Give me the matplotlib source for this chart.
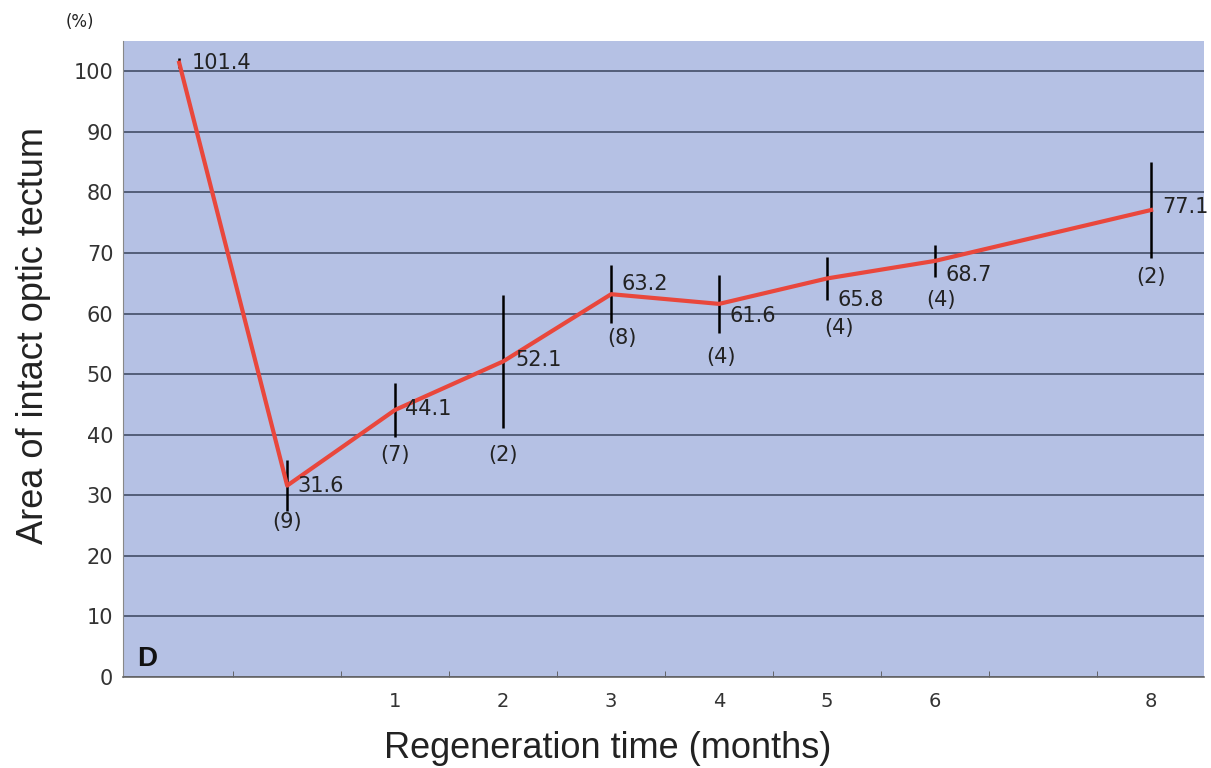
import numpy as np
import matplotlib
matplotlib.use("Agg")
import matplotlib.pyplot as plt


# Values

months = [-1, 0, 1, 2, 3, 4, 5, 6, 8]
means = [101.4, 31.6, 44.1, 52.1, 63.2, 61.6, 65.8, 68.7, 77.1]
errors = [0.8, 4.2, 4.5, 11.0, 4.8, 4.8, 3.6, 2.6, 8.0]
counts = ["", "(9)", "(7)", "(2)", "(8)", "(4)", "(4)", "(4)", "(2)"]

tick_months = [1, 2, 3, 4, 5, 6, 8]
tick_labels = ["1", "2", "3", "4", "5", "6", "8"]

# label offsets in pixels (value label, count label)
value_offsets = [(12, 0), (10, 0), (10, 1), (12, 1), (10, 10), (10, -12),
                 (10, -22), (10, -14), (11, 3)]
count_offsets = [(0, 0), (0, -36), (0, -45), (0, -94), (11, -44), (2, -53),
                 (12, -50), (6, -39), (0, -67)]

bg = "#b5c1e4"
grid_color = "#4b5670"
red = "#e9473c"

plt.rcParams["font.family"] = ["DejaVu Sans"]

fig = plt.figure(figsize=(12.11, 7.68), dpi=100)
ax = fig.add_axes([0.1016, 0.1185, 0.8926, 0.8281])
ax.set_facecolor(bg)

ax.set_xlim(-1.52, 8.49)
ax.set_ylim(0, 105)

ax.set_yticks(np.arange(0, 101, 10))
ax.yaxis.grid(True, color=grid_color, linewidth=1.3)
ax.set_axisbelow(True)

ax.set_xticks(tick_months)
ax.set_xticklabels(tick_labels)
ax.set_xticks(np.arange(-0.5, 8, 1), minor=True)
ax.tick_params(axis="x", which="major", length=0, pad=11, labelsize=14,
               colors="#333333")
ax.tick_params(axis="x", which="minor", length=4, direction="in",
               color="#555555")
ax.tick_params(axis="y", length=0, pad=7, labelsize=15, colors="#333333")

for side in ["top", "right"]:
    ax.spines[side].set_visible(False)
ax.spines["left"].set_color("#888888")
ax.spines["bottom"].set_color("#666666")
ax.spines["bottom"].set_linewidth(1.2)

ax.errorbar(months, means, yerr=errors, fmt="none", ecolor="black",
            elinewidth=1.8, capsize=0, zorder=3)
ax.plot(months, means, color=red, linewidth=3, zorder=4)

for m, v, c, vo, co in zip(months, means, counts, value_offsets, count_offsets):
    ax.annotate(f"{v:.1f}", (m, v), xytext=vo, textcoords="offset pixels",
                ha="left", va="center", fontsize=15, color="#222222", zorder=5)
    if c:
        ax.annotate(c, (m, v), xytext=co, textcoords="offset pixels",
                    ha="center", va="center", fontsize=15, color="#222222",
                    zorder=5)

ax.text(0.013, 0.008, "D", transform=ax.transAxes, fontsize=20,
        fontweight="bold", family="Liberation Sans", color="#111111",
        ha="left", va="bottom")

fig.text(80 / 1211, 1 - 22 / 768, "(%)", fontsize=12, ha="center",
         va="center", color="#222222")

fig.text(34 / 1211, 1 - 336 / 768, "Area of intact optic tectum",
         rotation=90, fontsize=26, family="Liberation Sans",
         ha="center", va="center", color="#222222")
fig.text(608 / 1211, 1 - 749 / 768, "Regeneration time (months)",
         fontsize=26, family="Liberation Sans",
         ha="center", va="center", color="#222222")

fig.savefig("out.png", dpi=100)
